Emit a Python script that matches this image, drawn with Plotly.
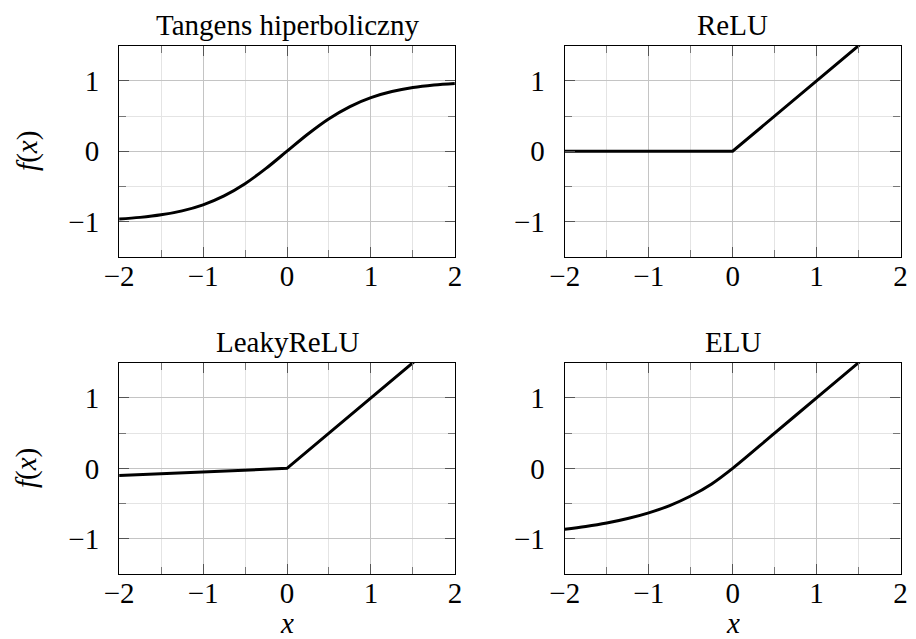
import plotly.graph_objects as go

# ---- data ----
tanh_x = [-2, -1.75, -1.5, -1.25, -1, -0.75, -0.5, -0.25, 0, 0.25, 0.5, 0.75, 1, 1.25, 1.5, 1.75, 2]
tanh_y = [-0.964, -0.941, -0.905, -0.848, -0.762, -0.635, -0.462, -0.245, 0, 0.245, 0.462, 0.635, 0.762, 0.848, 0.905, 0.941, 0.964]

relu_x = [-2, 0, 2]
relu_y = [0, 0, 2]

leaky_x = [-2, 0, 2]
leaky_y = [-0.1, 0, 2]

elu_x = [-2, -1.75, -1.5, -1.25, -1, -0.75, -0.5, -0.25, 0, 0.5, 1, 1.5, 2]
elu_y = [-0.865, -0.826, -0.777, -0.713, -0.632, -0.528, -0.393, -0.221, 0, 0.5, 1, 1.5, 2]

titles = ["Tangens hiperboliczny", "ReLU", "LeakyReLU", "ELU"]
x_ticks = [-2, -1, 0, 1, 2]
y_ticks = [-1, 0, 1]
x_range = [-2, 2]
y_range = [-1.5, 1.5]

# ---- layout geometry ----
W, H = 916, 639
FONT = "Liberation Serif"
FS = 29
x_domains = [[106.7 / W, 450.7 / W], [563.3 / W, 907.3 / W]]
y_domains = [[1 - 256.7 / H, 1 - 45.7 / H], [1 - 574.0 / H, 1 - 362.7 / H]]

series = [(tanh_x, tanh_y, "spline"), (relu_x, relu_y, "linear"),
          (leaky_x, leaky_y, "linear"), (elu_x, elu_y, "spline")]

fig = go.Figure()
layout = {}
annotations = []
for i, (xs, ys, shape) in enumerate(series):
    row, col = divmod(i, 2)
    n = "" if i == 0 else str(i + 1)
    fig.add_trace(go.Scatter(x=xs, y=ys, mode="lines", line=dict(color="black", width=3, shape=shape),
                             xaxis="x" + n, yaxis="y" + n, showlegend=False, hoverinfo="skip"))
    common = dict(showline=True, linecolor="black", linewidth=1.3, mirror="allticks",
                  ticks="inside", ticklen=10, tickwidth=1, tickcolor="#555555",
                  showgrid=True, gridcolor="#c4c4c4", gridwidth=1, zeroline=False,
                  tickfont=dict(family=FONT, size=FS, color="black"),
                  minor=dict(dtick=0.5, ticks="inside", ticklen=7, tickcolor="#777777",
                             showgrid=True, gridcolor="#e4e4e4", gridwidth=1),
                  fixedrange=True)
    layout["xaxis" + n] = dict(common, domain=x_domains[col], range=x_range, tickvals=x_ticks,
                               anchor="y" + n, ticklabelstandoff=-7)
    layout["yaxis" + n] = dict(common, domain=y_domains[row], range=y_range, tickvals=y_ticks,
                               anchor="x" + n, ticklabelstandoff=13)
    annotations.append(dict(text=titles[i], xref="x" + n + " domain", yref="y" + n + " domain",
                            x=0.5, y=1, xanchor="center", yanchor="bottom", yshift=3,
                            showarrow=False, font=dict(family=FONT, size=FS, color="black")))
    if col == 0:
        annotations.append(dict(text="<i>f</i>(<i>x</i>)", xref="paper", yref="y" + n + " domain",
                                x=12 / W, y=0.5, xanchor="center", yanchor="middle", textangle=-90,
                                showarrow=False, font=dict(family=FONT, size=FS, color="black")))
    if row == 1:
        annotations.append(dict(text="<i>x</i>", xref="x" + n + " domain", yref="paper",
                                x=0.5, y=0, xanchor="center", yanchor="bottom", height=24,
                                valign="middle", yshift=2,
                                showarrow=False, font=dict(family=FONT, size=FS, color="black")))

fig.update_layout(**layout)
fig.update_layout(width=W, height=H, margin=dict(l=0, r=0, t=0, b=0),
                  paper_bgcolor="white", plot_bgcolor="white", annotations=annotations)
fig.write_html("out.html")
